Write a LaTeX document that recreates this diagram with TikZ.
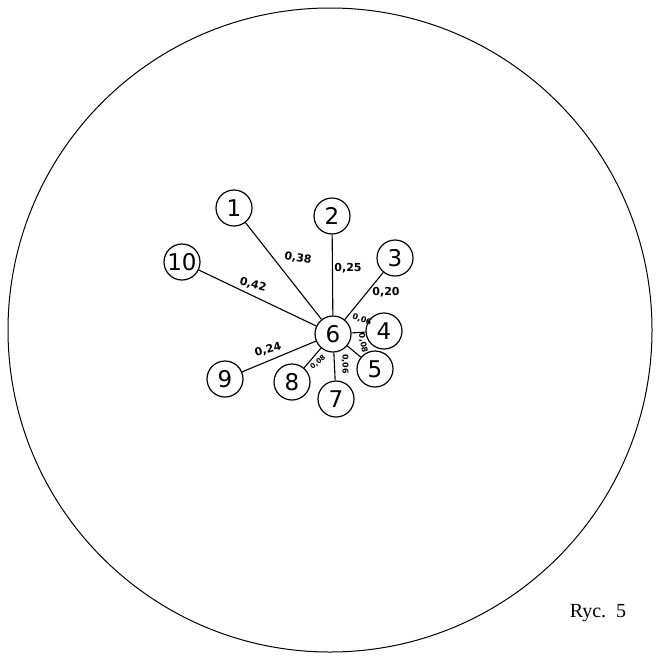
\documentclass[tikz,border=0pt]{standalone}
\usepackage{fontspec}
\setmainfont{DejaVu Sans}
\newfontfamily\capfont{Liberation Serif}
\begin{document}
\begin{tikzpicture}[x=1pt,y=-1pt,
  vert/.style={circle,draw,line width=1.2pt,minimum size=36pt,inner sep=0pt,font=\fontsize{23}{23}\selectfont},
  edge/.style={line width=1.1pt},
  wlab/.style={font=\bfseries\fontsize{11}{11}\selectfont,inner sep=0pt},
  slab/.style={font=\bfseries\fontsize{8}{8}\selectfont,inner sep=0pt}]
\useasboundingbox (0,0) rectangle (660,659);
\draw[line width=1pt] (330,330) circle (322);
\node[vert] (n6) at (333,334) {6};
\node[vert] (n1) at (234,208) {1};
\node[vert] (n2) at (332,216) {2};
\node[vert] (n3) at (395,258) {3};
\node[vert] (n10) at (182,262) {10};
\node[vert] (n4) at (384,331) {4};
\node[vert] (n5) at (375,369) {5};
\node[vert] (n9) at (225,379) {9};
\node[vert] (n8) at (292,382) {8};
\node[vert] (n7) at (336,399) {7};
\draw[edge] (n6) -- (n1);
\draw[edge] (n6) -- (n2);
\draw[edge] (n6) -- (n3);
\draw[edge] (n6) -- (n10);
\draw[edge] (n6) -- (n9);
\draw[edge] (n6) -- (n4);
\draw[edge] (n6) -- (n5);
\draw[edge] (n6) -- (n7);
\draw[edge] (n6) -- (n8);
\node[wlab,rotate=-8] (l1) at (298,258) {0,38};
\node[wlab] (l2) at (348,268) {0,25};
\node[wlab] (l3) at (386,292) {0,20};
\node[wlab,rotate=-15] (l10) at (253,285) {0,42};
\node[wlab,rotate=15] (l9) at (268,350) {0,24};
\node[slab,rotate=-20] (l4) at (362,320) {0,06};
\node[slab,rotate=-80] (l5) at (363,343) {0,08};
\node[slab,font=\bfseries\fontsize{7}{7}\selectfont,rotate=40] (l8) at (318,362) {0,08};
\node[slab,rotate=-90] (l7) at (345,364) {0,06};
\node[font=\capfont\fontsize{20}{20}\selectfont] (cap) at (598,613) {Ryc.\ \ 5};
\end{tikzpicture}
\end{document}
